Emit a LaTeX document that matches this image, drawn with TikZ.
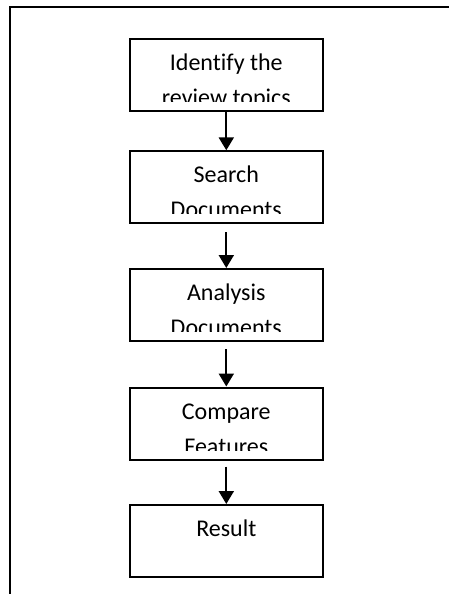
\documentclass[tikz,border=0pt]{standalone}
\usepackage{fontspec}
\setmainfont{Carlito}[Ligatures=NoCommon]
\usetikzlibrary{arrows.meta}
% #1 box name, #2 depth of the last baseline below the box top, #3 text
\newcommand\steplabel[3]{%
  \begin{scope}
    \clip (#1.north west) rectangle ([yshift=10.5bp]#1.south east);
    \node[steptext] (#1t) at ([yshift=-#2]#1.north) {#3};
  \end{scope}}
\begin{document}
\begin{tikzpicture}[x=1bp,y=-1bp,
  stepbox/.style={draw, line width=2bp, minimum width=193bp, minimum height=72bp, inner sep=0},
  steptext/.style={font=\fontsize{24bp}{35bp}\selectfont, align=center, inner sep=0, anchor=base},
  flow/.style={line width=2.2bp, -{Triangle[length=13bp,width=15bp]}}]
\useasboundingbox (0,0) rectangle (449,594);
\draw[line width=2bp] (9.5,594) -- (9.5,7.5) -- (449,7.5);
\node[stepbox] (b1) at (226.3,75.5) {};
\node[stepbox] (b2) at (226.3,187.3) {};
\node[stepbox] (b3) at (226.3,305) {};
\node[stepbox] (b4) at (226.3,423.5) {};
\node[stepbox] (b5) at (226.3,541) {};
\steplabel{b1}{67.5bp}{Identify the\\review topics}
\steplabel{b2}{67.5bp}{Search\\Documents}
\steplabel{b3}{67.5bp}{Analysis\\Documents}
\steplabel{b4}{67.5bp}{Compare\\Features}
\steplabel{b5}{32.5bp}{Result}
\draw[flow] (b1.south) -- (b2.north);
\draw[flow, shorten <=8bp] (b2.south) -- (b3.north);
\draw[flow, shorten <=7bp] (b3.south) -- (b4.north);
\draw[flow, shorten <=6bp] (b4.south) -- (b5.north);
\end{tikzpicture}
\end{document}
